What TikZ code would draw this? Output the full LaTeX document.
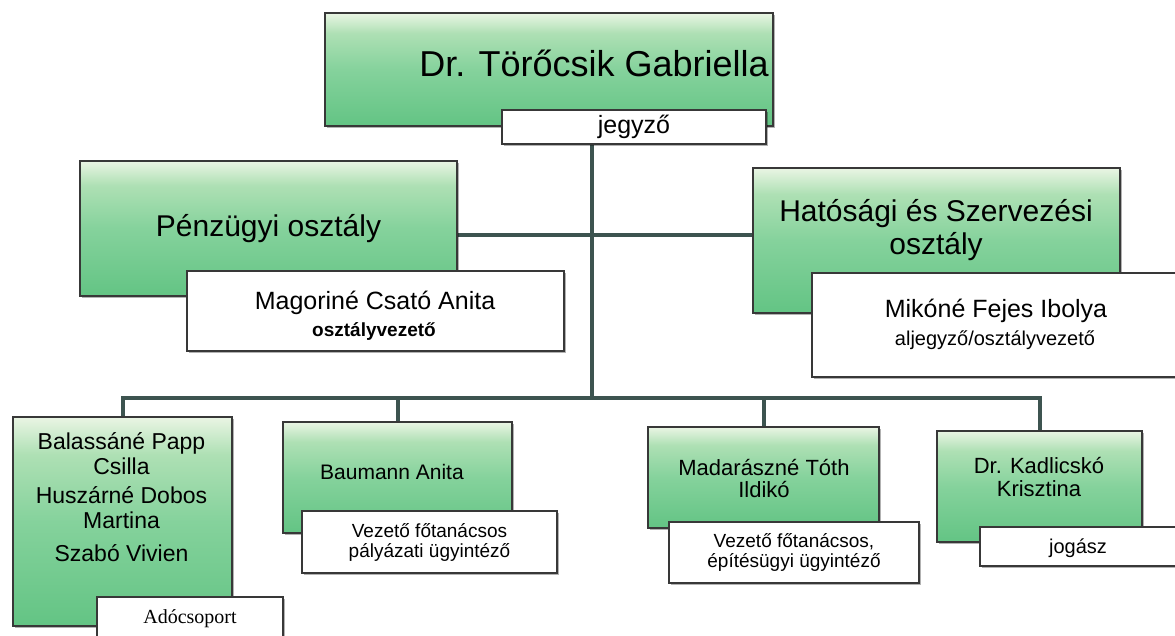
\documentclass[tikz,border=0pt]{standalone}
\usepackage{fontspec}
\setmainfont{Liberation Sans}
\newfontfamily\timesfam{Liberation Serif}
\usetikzlibrary{shadows,backgrounds}
\definecolor{g0}{HTML}{EAF5E4}
\definecolor{g1}{HTML}{AEE0B4}
\definecolor{g2}{HTML}{85D29C}
\definecolor{g3}{HTML}{63C484}
\definecolor{edgecol}{HTML}{383838}
\definecolor{conncol}{HTML}{3D5450}
\pgfdeclareverticalshading{grnshade}{100bp}{color(0bp)=(g3); color(25bp)=(g3); color(50bp)=(g2); color(66bp)=(g1); color(75bp)=(g0); color(100bp)=(g0)}
\newcommand\fsz[2]{\fontsize{#1}{#2}\selectfont}
\begin{document}
\begin{tikzpicture}[x=1pt,y=-1pt,
  greenbox/.style={draw=edgecol, line width=1.2pt, shade, shading=grnshade, inner sep=0pt,
    drop shadow={shadow xshift=2pt, shadow yshift=-2pt, opacity=0.3, fill=black}},
  whitebox/.style={draw=edgecol, line width=1.2pt, fill=white, inner sep=0pt,
    drop shadow={shadow xshift=2pt, shadow yshift=-2pt, opacity=0.3, fill=black}},
  connline/.style={draw=conncol, line width=4pt},
  lbl/.style={inner sep=0pt, align=center}]
\useasboundingbox (0,0) rectangle (1175,636);

% top
\node[greenbox, minimum width=448pt, minimum height=113pt] (top) at (549,69.5) {};
\node[lbl, font=\fsz{36}{40}] (toptxt) at (594,63) {Dr. Törőcsik Gabriella};
\node[whitebox, minimum width=264pt, minimum height=34pt, font=\fsz{25}{28}] (jegyzo) at (634,127) {jegyző};

% Penzugyi
\node[greenbox, minimum width=377pt, minimum height=135pt, font=\fsz{30}{34}] (penz) at (268.5,228.5) {Pénzügyi osztály};
\node[whitebox, minimum width=377pt, minimum height=80pt] (mag) at (375.5,311) {};
\node[lbl, font=\fsz{25}{28}] (magname) at (375,303) {Magoriné Csató Anita};
\node[lbl, font=\fsz{19}{22}\bfseries] (magrole) at (374,332) {osztályvezető};

% Hatosagi
\node[greenbox, minimum width=367pt, minimum height=145pt] (hat) at (936.5,240.5) {};
\node[lbl, font=\fsz{30}{33}] (hattxt) at (936,230) {Hatósági és Szervezési\\osztály};
\node[whitebox, minimum width=368pt, minimum height=104pt] (mik) at (996,325) {};
\node[lbl, font=\fsz{25}{28}] (mikname) at (996,311) {Mikóné Fejes Ibolya};
\node[lbl, font=\fsz{20}{22}] (mikrole) at (995,340) {aljegyző/osztályvezető};

% bottom row
\node[greenbox, minimum width=219pt, minimum height=209pt] (b1) at (122.5,521.5) {};
\node[lbl, font=\fsz{23}{25}] (b1txt) at (121.5,497.5) {Balassáné Papp\\Csilla\\[4pt]Huszárné Dobos\\Martina\\[8pt]Szabó Vivien};
\node[whitebox, minimum width=186pt, minimum height=43pt, font=\timesfam\fsz{20}{22}] (ado) at (190,618.5) {Adócsoport};

\node[greenbox, minimum width=229pt, minimum height=111pt] (b2) at (397.5,477.5) {};
\node[lbl, font=\fsz{21}{24}] (b2txt) at (392,472) {Baumann Anita};
\node[whitebox, minimum width=255pt, minimum height=62pt, font=\fsz{19}{20}, align=center] (v2) at (429.5,542) {Vezető főtanácsos\\pályázati ügyintéző};

\node[greenbox, minimum width=231pt, minimum height=101pt] (b3) at (763.5,477.5) {};
\node[lbl, font=\fsz{22}{22}] (b3txt) at (764,479) {Madarászné Tóth\\Ildikó};
\node[whitebox, minimum width=250pt, minimum height=61pt, font=\fsz{19}{20}, align=center] (v3) at (794,552.5) {Vezető főtanácsos,\\építésügyi ügyintéző};

\node[greenbox, minimum width=205pt, minimum height=111pt] (b4) at (1039.5,486.5) {};
\node[lbl, font=\fsz{22}{23}] (b4txt) at (1039,477) {Dr. Kadlicskó\\Krisztina};
\node[whitebox, minimum width=200pt, minimum height=39pt] (v4) at (1080,546.5) {};
\node[lbl, font=\fsz{20}{22}] (v4txt) at (1078,548) {jogász};

% connectors
\begin{pgfonlayer}{background}
\fill[white] (0,0) rectangle (1175,636);
\coordinate (tr) at (592,398);
\coordinate (mid) at (592,235);
\draw[connline] (jegyzo.south -| tr) -- (tr);
\draw[connline] (penz.east |- mid) -- (hat.west |- mid);
\draw[connline] (b1.north) -- (b1.north |- tr) -- (b4.north |- tr) -- (b4.north);
\draw[connline] (b2.north) -- (b2.north |- tr);
\draw[connline] (b3.north) -- (b3.north |- tr);
\end{pgfonlayer}
\end{tikzpicture}
\end{document}
